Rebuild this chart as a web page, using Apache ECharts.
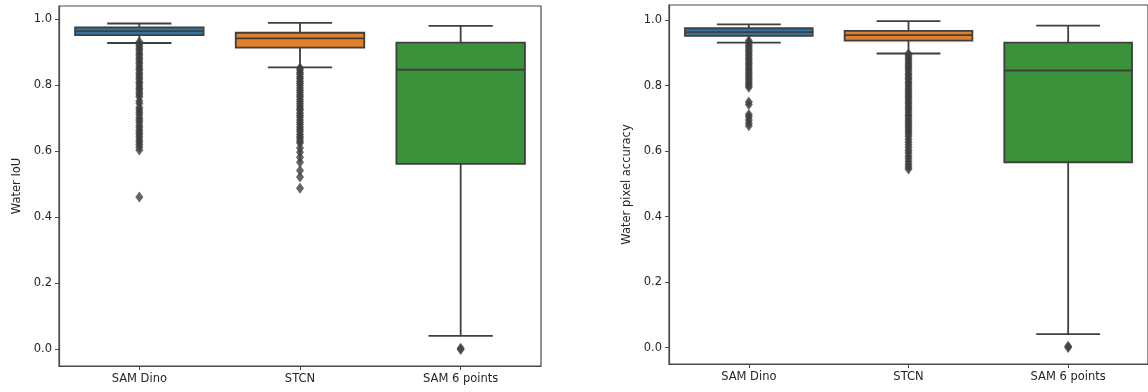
<!DOCTYPE html>
<html>
<head>
<meta charset="utf-8">
<script src="https://cdn.jsdelivr.net/npm/echarts@6/dist/echarts.min.js"></script>
<style>
  html, body { margin: 0; padding: 0; background: #ffffff; }
  #chart { width: 1148px; height: 392px; }
</style>
</head>
<body>
<div id="chart"></div>
<script>
// Methods compared on the water segmentation task
const categories = ['SAM Dino', 'STCN', 'SAM 6 points'];

// Box summaries per method: [lower whisker, Q1, median, Q3, upper whisker]
const iouStats = [
  [0.928, 0.952, 0.964, 0.975, 0.987],
  [0.854, 0.914, 0.942, 0.959, 0.989],
  [0.041, 0.562, 0.847, 0.929, 0.980]
];
const accStats = [
  [0.931, 0.952, 0.963, 0.975, 0.987],
  [0.898, 0.937, 0.954, 0.967, 0.997],
  [0.041, 0.566, 0.846, 0.931, 0.983]
];

// Outlying frames per method (Water IoU)
const iouOutSamDino = [
  0.931, 0.924, 0.918, 0.911, 0.905, 0.897, 0.892, 0.884, 0.879, 0.871,
  0.866, 0.858, 0.851, 0.846, 0.838, 0.832, 0.824, 0.819, 0.811, 0.805,
  0.798, 0.791, 0.786, 0.778, 0.772, 0.765, 0.752, 0.745, 0.733, 0.726,
  0.718, 0.711, 0.702, 0.695, 0.688, 0.679, 0.672, 0.664, 0.657, 0.651,
  0.643, 0.635, 0.628, 0.621, 0.613, 0.604, 0.462
];
const iouOutStcn = [
  0.852, 0.846, 0.839, 0.833, 0.826, 0.82, 0.812, 0.806, 0.799, 0.792,
  0.785, 0.779, 0.771, 0.765, 0.758, 0.751, 0.744, 0.737, 0.73, 0.724,
  0.716, 0.709, 0.703, 0.695, 0.688, 0.681, 0.674, 0.667, 0.66, 0.652,
  0.645, 0.639, 0.631, 0.625, 0.61, 0.597, 0.582, 0.567, 0.542, 0.522,
  0.488
];
const iouOutSam6 = [0.004, 0.0];

// Outlying frames per method (Water pixel accuracy)
const accOutSamDino = [
  0.937, 0.931, 0.924, 0.918, 0.911, 0.905, 0.898, 0.892, 0.885, 0.879,
  0.872, 0.866, 0.859, 0.852, 0.846, 0.839, 0.833, 0.826, 0.82, 0.813,
  0.807, 0.801, 0.795, 0.75, 0.742, 0.712, 0.705, 0.695, 0.686, 0.677
];
const accOutStcn = [
  0.897, 0.891, 0.884, 0.878, 0.871, 0.865, 0.858, 0.852, 0.845, 0.838,
  0.832, 0.825, 0.819, 0.812, 0.806, 0.799, 0.792, 0.786, 0.779, 0.772,
  0.766, 0.759, 0.752, 0.746, 0.739, 0.732, 0.726, 0.719, 0.712, 0.706,
  0.699, 0.692, 0.686, 0.679, 0.672, 0.665, 0.659, 0.652, 0.645, 0.636,
  0.628, 0.619, 0.611, 0.602, 0.594, 0.585, 0.577, 0.568, 0.56, 0.552,
  0.545
];
const accOutSam6 = [0.004, 0.0];

const yTicks = [0, 0.2, 0.4, 0.6, 0.8, 1.0];

const boxColors = ['#3274a1', '#e1812c', '#3a923a'];
const edgeColor = '#3f3f3f';
const frameColor = '#4a4a4a';
const textColor = '#262626';
const fontFamily = '"DejaVu Sans", sans-serif';

function boxData(stats) {
  return stats.map((s, i) => [i].concat(s));
}
function outlierData(lists) {
  const out = [];
  lists.forEach((vals, i) => vals.forEach(v => out.push([i, v])));
  return out;
}

// Box, median and whiskers with caps at half the box width
function renderBox(params, api) {
  const x = api.value(0);
  const lo = api.coord([x, api.value(1)]);
  const q1 = api.coord([x, api.value(2)]);
  const med = api.coord([x, api.value(3)]);
  const q3 = api.coord([x, api.value(4)]);
  const hi = api.coord([x, api.value(5)]);
  const band = api.size([1, 0])[0];
  const boxW = band * 0.8;
  const capW = boxW / 2;
  const cx = q1[0];
  const line = { stroke: edgeColor, lineWidth: 1.8 };
  return {
    type: 'group',
    children: [
      { type: 'line', shape: { x1: cx, y1: q3[1], x2: cx, y2: hi[1] }, style: line },
      { type: 'line', shape: { x1: cx, y1: q1[1], x2: cx, y2: lo[1] }, style: line },
      { type: 'line', shape: { x1: cx - capW / 2, y1: hi[1], x2: cx + capW / 2, y2: hi[1] }, style: line },
      { type: 'line', shape: { x1: cx - capW / 2, y1: lo[1], x2: cx + capW / 2, y2: lo[1] }, style: line },
      {
        type: 'rect',
        shape: { x: cx - boxW / 2, y: q3[1], width: boxW, height: q1[1] - q3[1] },
        style: { fill: boxColors[x], stroke: edgeColor, lineWidth: 1.8 }
      },
      { type: 'line', shape: { x1: cx - boxW / 2, y1: med[1], x2: cx + boxW / 2, y2: med[1] }, style: line }
    ]
  };
}

function makeXAxis(gridIndex) {
  return {
    type: 'category',
    gridIndex,
    data: categories,
    boundaryGap: true,
    axisLine: { show: true, onZero: false, lineStyle: { color: frameColor, width: 1.2 } },
    axisTick: { show: true, alignWithLabel: true, length: 4, lineStyle: { color: frameColor } },
    axisLabel: { color: textColor, fontSize: 11.5, fontFamily, margin: 7 },
    splitLine: { show: false }
  };
}
function makeYAxis(gridIndex, name, min, max, nameGap) {
  return {
    type: 'value',
    gridIndex,
    min, max,
    name,
    nameLocation: 'middle',
    nameGap,
    nameTextStyle: { color: textColor, fontSize: 11.5, fontFamily },
    axisLine: { show: true, onZero: false, lineStyle: { color: frameColor, width: 1.2 } },
    axisTick: { show: true, length: 4, customValues: yTicks, lineStyle: { color: frameColor } },
    axisLabel: {
      color: textColor, fontSize: 11.5, fontFamily, margin: 7,
      customValues: yTicks,
      formatter: v => v.toFixed(1)
    },
    splitLine: { show: false }
  };
}

const chart = echarts.init(document.getElementById('chart'), null, { renderer: 'canvas' });
chart.setOption({
  backgroundColor: '#ffffff',
  animation: false,
  grid: [
    { left: 59, top: 6, width: 482, height: 360, show: true, borderColor: frameColor, borderWidth: 1.2, backgroundColor: 'transparent' },
    { left: 669, top: 5, width: 482, height: 359, show: true, borderColor: frameColor, borderWidth: 1.2, backgroundColor: 'transparent' }
  ],
  xAxis: [makeXAxis(0), makeXAxis(1)],
  yAxis: [
    makeYAxis(0, 'Water IoU', -0.05, 1.04, 36),
    makeYAxis(1, 'Water pixel accuracy', -0.05, 1.046, 36)
  ],
  series: [
    {
      type: 'custom', xAxisIndex: 0, yAxisIndex: 0,
      renderItem: renderBox, data: boxData(iouStats),
      encode: { x: 0, y: [1, 2, 3, 4, 5] }, z: 2
    },
    {
      type: 'scatter', xAxisIndex: 0, yAxisIndex: 0,
      symbol: 'diamond', symbolSize: [8, 11],
      itemStyle: { color: edgeColor },
      data: outlierData([iouOutSamDino, iouOutStcn, iouOutSam6]), z: 3
    },
    {
      type: 'custom', xAxisIndex: 1, yAxisIndex: 1,
      renderItem: renderBox, data: boxData(accStats),
      encode: { x: 0, y: [1, 2, 3, 4, 5] }, z: 2
    },
    {
      type: 'scatter', xAxisIndex: 1, yAxisIndex: 1,
      symbol: 'diamond', symbolSize: [8, 11],
      itemStyle: { color: edgeColor },
      data: outlierData([accOutSamDino, accOutStcn, accOutSam6]), z: 3
    }
  ]
});
</script>
</body>
</html>
